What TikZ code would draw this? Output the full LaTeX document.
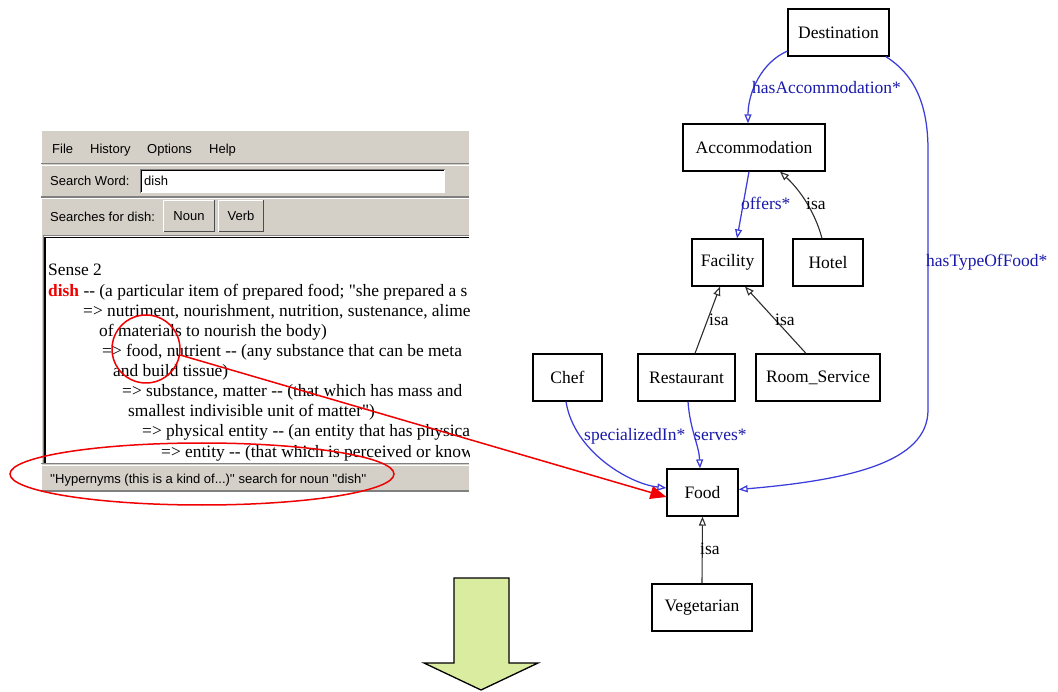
\documentclass[tikz,border=0pt]{standalone}
\usepackage{fontspec}
\setmainfont{Liberation Serif}[Ligatures=TeXOff]
\newfontfamily\uifont{Liberation Sans}[Ligatures=TeXOff]
\usetikzlibrary{arrows.meta,calc,shapes.geometric}

\definecolor{wingray}{RGB}{212,208,200}
\definecolor{windark}{RGB}{128,128,128}
\definecolor{edgeblue}{RGB}{60,60,218}
\definecolor{lblblue}{RGB}{25,25,170}
\definecolor{arrowgreen}{RGB}{218,236,160}
\definecolor{hlred}{RGB}{240,0,0}

\tikzset{
  ui/.style={anchor=base west, inner sep=0, font=\uifont\fontsize{13}{15}\selectfont},
  wtext/.style={anchor=base west, inner sep=0, font=\fontsize{17.4}{20}\selectfont},
  cls/.style={draw, line width=1.2pt, inner sep=0, minimum height=47,
    font=\fontsize{17.5}{20}\selectfont},
  rel/.style={draw=edgeblue, line width=1.25pt,
    -{Triangle[open, length=9pt, width=7pt]}},
  isa/.style={draw={rgb,255:red,45;green,45;blue,45}, line width=1.1pt,
    -{Triangle[open, length=9pt, width=7pt]}},
  lbl/.style={anchor=west, inner sep=0, text height=12.5pt, text depth=3.5pt,
    font=\fontsize{17.5}{20}\selectfont},
  rlbl/.style={lbl, text=lblblue},
  btn/.style={fill=wingray, inner sep=0, minimum height=31, font=\uifont\fontsize{13}{15}\selectfont},
  redmark/.style={draw=hlred, line width=1.5pt, inner sep=0}
}

\begin{document}
\begin{tikzpicture}[x=1pt, y=-1pt]
\useasboundingbox (0,0) rectangle (1058,692);

% ---------- WordNet browser window ----------
\fill[wingray] (41,130) rectangle (469,491);
\draw[white, line width=1.2pt] (41.6,491) -- (41.6,130.6) -- (469,130.6);
% menu bar
\node[ui] (mfile) at (52,154) {File};
\node[ui] (mhist) at (90,154) {History};
\node[ui] (mopt) at (147,154) {Options};
\node[ui] (mhelp) at (209,154) {Help};
\draw[windark, line width=1.2pt] (41,163.5) -- (469,163.5);
\draw[white, line width=1pt] (41,165.2) -- (469,165.2);
% search word row
\node[ui] (sword) at (50,186) {Search Word:};
\fill[white] (140,169) rectangle (445,193);
\draw[windark, line width=1pt] (140.5,193) -- (140.5,169.5) -- (445,169.5);
\draw[black, line width=1pt] (141.8,192) -- (141.8,170.8) -- (444,170.8);
\node[ui] (sval) at (144,186) {dish};
\draw[windark, line width=1.2pt] (41,197) -- (469,197);
\draw[white, line width=1pt] (41,198.7) -- (469,198.7);
% searches row
\node[ui] (sfor) at (50,221.5) {Searches for dish:};
\node[btn, minimum width=50] (noun) at (189,216) {Noun};
\node[btn, minimum width=44] (verb) at (241,216) {Verb};
\foreach \b in {noun,verb}{
  \draw[white, line width=1pt] (\b.south west) |- (\b.north east);
  \draw[black!70, line width=1.2pt] (\b.south west) -| (\b.north east);
}
% results area (lines run on past the window edge and are cut by the clip)
\fill[white] (43,235) rectangle (469,463);
\draw[windark, line width=1.2pt] (43.6,463) -- (43.6,235.6) -- (469,235.6);
\draw[black, line width=1.2pt] (45,463) -- (45,237.2) -- (469,237.2);
\begin{scope}
\clip (45.6,237.8) rectangle (469,462.5);
\node[wtext] (t1) at (48,276) {Sense 2};
\node[wtext] (t2) at (48,297) {\textcolor{hlred}{\textbf{dish}} -- (a particular item of prepared food; "she prepared a s};
\node[wtext] (t3) at (83,317) {=> nutriment, nourishment, nutrition, sustenance, alime};
\node[wtext] (t4) at (99,337) {of materials to nourish the body)};
\node[wtext] (t5) at (102,357) {=> food, nutrient -- (any substance that can be meta};
\node[wtext] (t6) at (113,377) {and build tissue)};
\node[wtext] (t7) at (122,397) {=> substance, matter -- (that which has mass and};
\node[wtext] (t8) at (128,417) {smallest indivisible unit of matter")};
\node[wtext] (t9) at (142,437) {=> physical entity -- (an entity that has physica};
\node[wtext] (t10) at (161,457) {=> entity -- (that which is perceived or know};
\end{scope}
% status bar
\draw[windark, line width=1pt] (41,464) -- (469,464);
\draw[white, line width=1pt] (41,465.5) -- (469,465.5);
\draw[windark, line width=1.2pt] (41,491) -- (469,491);
\node[ui] (status) at (50,484) {\textquotesingle\textquotesingle Hypernyms (this is a kind of...)\textquotesingle\textquotesingle\ search for noun \textquotesingle\textquotesingle dish\textquotesingle\textquotesingle};

% ---------- class graph ----------
\node[cls, minimum width=101] (dest) at (838.5,32.5) {Destination};
\node[cls, minimum width=142] (acc) at (754,147.5) {Accommodation};
\node[cls, minimum width=71] (fac) at (727.5,262.5) {Facility};
\node[cls, minimum width=70] (hotel) at (828,262.5) {Hotel};
\node[cls, minimum width=69] (chef) at (567.5,377.5) {Chef};
\node[cls, minimum width=97] (rest) at (686.5,377.5) {Restaurant};
\node[cls, minimum width=124] (rs) at (818,377.5) {Room\_Service};
\node[cls, minimum width=71] (food) at (702.5,492.5) {Food};
\node[cls, minimum width=100] (veg) at (702,607.5) {Vegetarian};

% properties
\draw[rel] (dest.200) .. controls (762,62) and (748,92) .. ([xshift=-6pt]acc.north);
\draw[rel] (dest.-27) .. controls (915,75) and (928,105) .. (928,150)
  -- (928,410) .. controls (928,462) and (850,480) .. ([yshift=3pt]food.east);
\draw[rel] ([xshift=-5pt]acc.south) -- ([xshift=9.5pt]fac.north);
\draw[rel] ([xshift=-1.5pt]chef.south) .. controls (574,452) and (630,484) .. ([yshift=4.5pt]food.west);
\draw[rel] ([xshift=1.5pt]rest.south) .. controls (690,430) and (699,445) .. ([xshift=-2.5pt]food.north);
% subclass links
\draw[isa] ([xshift=-6pt]hotel.north) .. controls (815,212) and (800,190) .. ([xshift=26pt]acc.south);
\draw[isa] ([xshift=8.5pt]rest.north) -- ([xshift=-7.5pt]fac.south);
\draw[isa] ([xshift=-12pt]rs.north) -- ([xshift=17.5pt]fac.south);
\draw[isa] (veg.north) -- (food.south);

% edge labels
\node[rlbl] (lacc) at (752,89) {hasAccommodation*};
\node[rlbl] (ltof) at (926,262) {hasTypeOfFood*};
\node[rlbl] (loff) at (741,205) {offers*};
\node[lbl] (lisa1) at (806,205) {isa};
\node[lbl] (lisa2) at (709,321) {isa};
\node[lbl] (lisa3) at (775,321) {isa};
\node[rlbl] (lspec) at (584,436) {specializedIn*};
\node[rlbl] (lserv) at (694,436) {serves*};
\node[lbl] (lisa4) at (700,550) {isa};

% ---------- highlights ----------
\node[redmark, circle, minimum size=68] (lens) at (146,349) {};
\node[redmark, ellipse, minimum width=384, minimum height=62] (hyp) at (202,474) {};
\draw[hlred, line width=1.5pt, -{Triangle[length=16pt, width=13pt]}] (lens.-10) -- ([yshift=-4.5pt]food.west);

% ---------- block arrow ----------
\draw[line width=1.3pt, fill=arrowgreen] (454,578) -- (509,578) -- (509,663) -- (538,663)
  -- (481,690) -- (424,663) -- (454,663) -- cycle;
\end{tikzpicture}
\end{document}
